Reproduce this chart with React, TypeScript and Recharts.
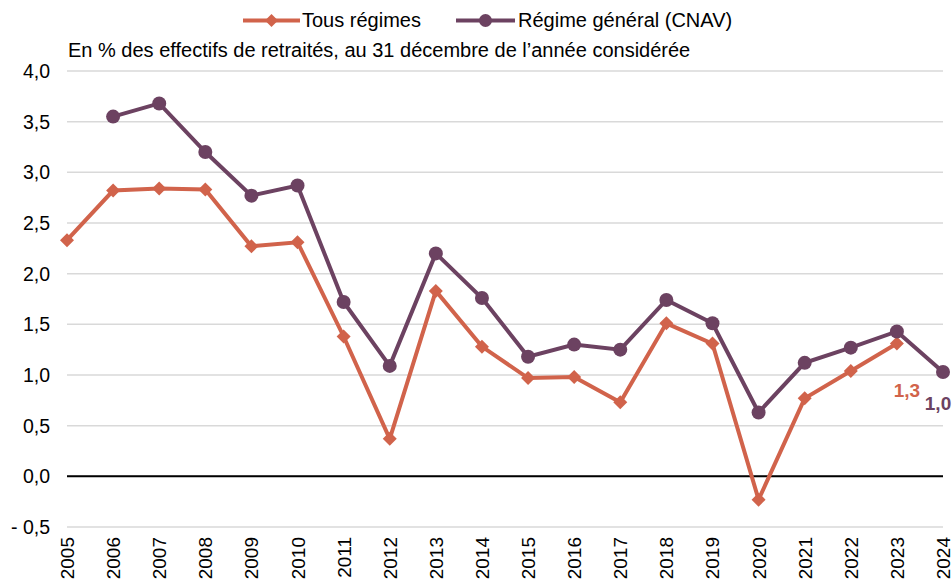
import React from "react";
import {
  LineChart,
  Line,
  XAxis,
  YAxis,
  CartesianGrid,
  ReferenceLine,
} from "recharts";

const years = [
  "2005", "2006", "2007", "2008", "2009", "2010", "2011", "2012", "2013", "2014",
  "2015", "2016", "2017", "2018", "2019", "2020", "2021", "2022", "2023", "2024",
];

const tousRegimes = [
  2.33, 2.82, 2.84, 2.83, 2.27, 2.31, 1.38, 0.37, 1.83, 1.28,
  0.97, 0.98, 0.73, 1.51, 1.31, -0.23, 0.77, 1.04, 1.31, null,
];

const regimeGeneral = [
  null, 3.55, 3.68, 3.2, 2.77, 2.87, 1.72, 1.09, 2.2, 1.76,
  1.18, 1.3, 1.25, 1.74, 1.51, 0.63, 1.12, 1.27, 1.43, 1.03,
];

const yTicks = [-0.5, 0, 0.5, 1, 1.5, 2, 2.5, 3, 3.5, 4];

const ORANGE = "#D1634B";
const PURPLE = "#6C4261";
const FONT = "'Liberation Sans', Arial, sans-serif";

const data = years.map((year, i) => ({
  year,
  tous: tousRegimes[i],
  cnav: regimeGeneral[i],
}));

const lastIndex = (arr: (number | null)[]) => {
  let last = -1;
  arr.forEach((v, i) => {
    if (v !== null) last = i;
  });
  return last;
};

const fmt = (v: number) => {
  const s = Math.abs(v).toFixed(1).replace(".", ",");
  return v < 0 ? "- " + s : s;
};

const DiamondDot = (props: any) => {
  const { cx, cy, key } = props;
  if (cx == null || cy == null || props.value == null) return <g key={key} />;
  const r = 7;
  return (
    <path
      key={key}
      d={`M${cx},${cy - r}L${cx + r},${cy}L${cx},${cy + r}L${cx - r},${cy}Z`}
      fill={ORANGE}
    />
  );
};

const YearTick = ({ x, y, payload }: any) => (
  <text
    transform={`translate(${x + 7},${y + 2}) rotate(-90)`}
    textAnchor="end"
    fontSize={19}
    fontFamily={FONT}
    fill="#000"
  >
    {payload.value}
  </text>
);

const makeLabel =
  (idx: number, color: string, dx: number, dy: number) => (props: any) => {
    const { x, y, value, index } = props;
    if (index !== idx || value == null) return null;
    return (
      <text
        x={x + dx}
        y={y + dy}
        textAnchor="middle"
        fontSize={19}
        fontWeight="bold"
        fontFamily={FONT}
        fill={color}
      >
        {fmt(value)}
      </text>
    );
  };

export default function App() {
  return (
    <div
      style={{
        position: "absolute",
        left: 0,
        top: 0,
        width: 952,
        height: 581,
        background: "#fff",
        overflow: "hidden",
      }}
    >
      <LineChart
        width={952}
        height={581}
        data={data}
        margin={{ top: 71, right: 9, left: 0, bottom: 0 }}
      >
        <CartesianGrid vertical={false} stroke="#d9d9d9" strokeWidth={1.5} />
        <XAxis
          dataKey="year"
          interval={0}
          axisLine={false}
          tickLine={false}
          height={54}
          tick={<YearTick />}
        />
        <YAxis
          domain={[-0.5, 4]}
          ticks={yTicks}
          tickFormatter={fmt}
          axisLine={false}
          tickLine={false}
          tickMargin={11}
          width={67}
          tick={{ fill: "#000", fontSize: 19.5, fontFamily: FONT }}
        />
        <ReferenceLine y={0} stroke="#000" strokeWidth={2} />
        <Line
          dataKey="tous"
          stroke={ORANGE}
          strokeWidth={4}
          dot={DiamondDot}
          activeDot={false}
          label={makeLabel(lastIndex(tousRegimes), ORANGE, 10, 53)}
          isAnimationActive={false}
        />
        <Line
          dataKey="cnav"
          stroke={PURPLE}
          strokeWidth={4}
          dot={{ r: 7, fill: PURPLE, stroke: "none" }}
          activeDot={false}
          label={makeLabel(lastIndex(regimeGeneral), PURPLE, -5, 38)}
          isAnimationActive={false}
        />
      </LineChart>
      <svg
        width={952}
        height={70}
        style={{ position: "absolute", left: 0, top: 0, pointerEvents: "none" }}
        fontFamily={FONT}
      >
        <line x1={243} x2={300} y1={20.5} y2={20.5} stroke={ORANGE} strokeWidth={4} />
        <path d="M271.5,14L278,20.5L271.5,27L265,20.5Z" fill={ORANGE} />
        <text x={302} y={27} fontSize={20} fill="#000">
          Tous régimes
        </text>
        <line x1={456} x2={515} y1={20.5} y2={20.5} stroke={PURPLE} strokeWidth={4} />
        <circle cx={485.5} cy={20.5} r={6.5} fill={PURPLE} />
        <text x={518} y={27} fontSize={20} fill="#000">
          Régime général (CNAV)
        </text>
        <text x={68} y={57} fontSize={20} fill="#000">
          En % des effectifs de retraités, au 31 décembre de l’année considérée
        </text>
      </svg>
    </div>
  );
}
